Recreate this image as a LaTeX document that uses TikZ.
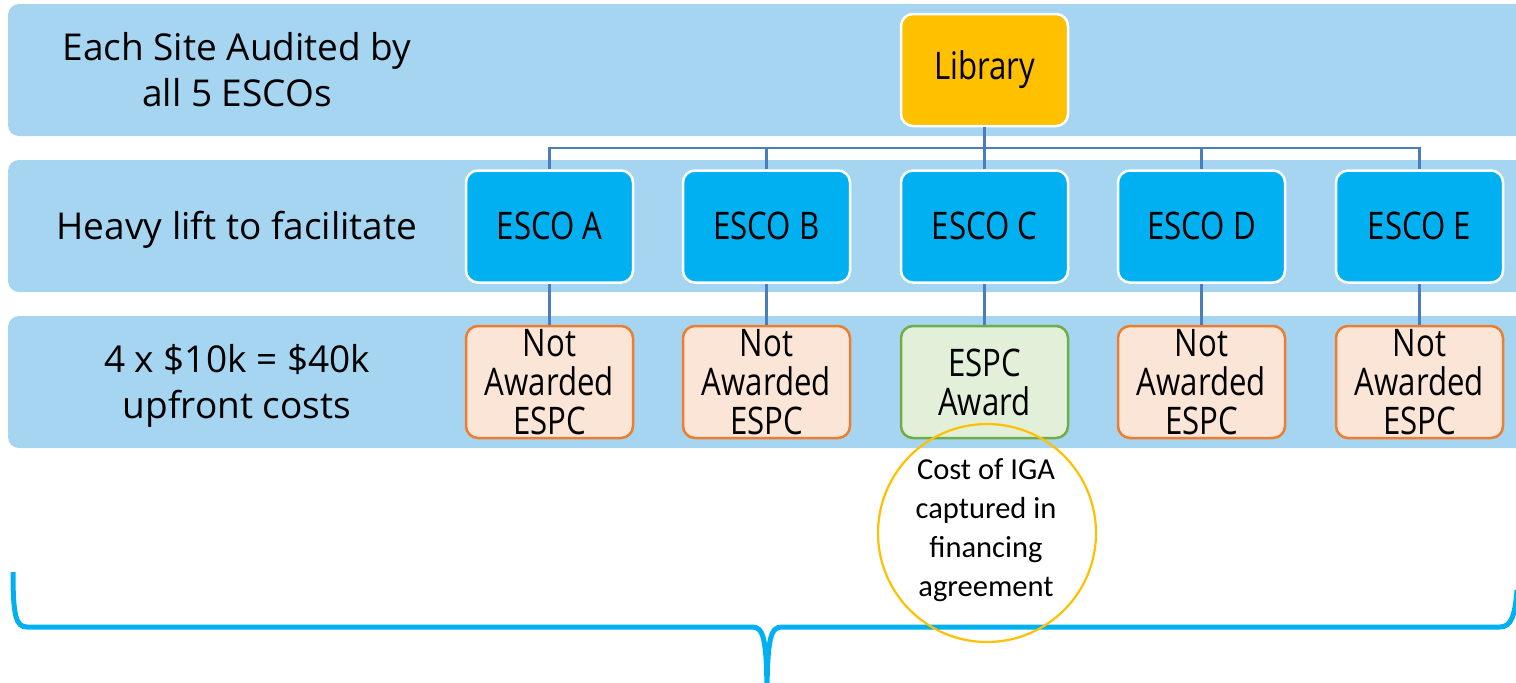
\documentclass[tikz,border=0pt]{standalone}
\usepackage{fontspec}
\setmainfont{Open Sans}
\newfontfamily\condfont[FakeStretch=0.82]{Open Sans}
\newfontfamily\calfont{Carlito}
\definecolor{bandcol}{HTML}{A6D5F2}
\definecolor{libcol}{HTML}{FFC000}
\definecolor{escocol}{HTML}{00B0F0}
\definecolor{conncol}{HTML}{4A7EBB}
\definecolor{nofill}{HTML}{FBE5D6}
\definecolor{nodraw}{HTML}{ED7D31}
\definecolor{yesfill}{HTML}{E2F0D9}
\definecolor{yesdraw}{HTML}{70AD47}
\tikzset{
  band/.style={fill=bandcol, rounded corners=11pt},
  bandtext/.style={align=center, font=\fontsize{37}{46}\selectfont, inner sep=0pt},
  box/.style={rounded corners=12pt, minimum width=167pt, minimum height=112pt, inner sep=0pt, align=center, font=\condfont\fontsize{38}{39}\selectfont},
  libbox/.style={box, fill=libcol, draw=white, line width=2.5pt},
  escobox/.style={box, fill=escocol, draw=white, line width=2.5pt},
  nobox/.style={box, fill=nofill, draw=nodraw, line width=2.5pt},
  yesbox/.style={box, fill=yesfill, draw=yesdraw, line width=2.5pt},
  conn/.style={draw=conncol, line width=2.2pt},
  bracestyle/.style={draw=escocol, line width=5pt},
  costcircle/.style={circle, draw=libcol, line width=2.2pt, minimum size=218pt, inner sep=0pt},
  costtext/.style={align=center, inner sep=0pt, font=\calfont\fontsize{30.5}{39}\selectfont}
}
\begin{document}
\begin{tikzpicture}[x=1pt,y=-1pt]
\useasboundingbox (0,0) rectangle (1516,683);
\clip (0,0) rectangle (1516,683);
% bands
\fill[band] (8,4) rectangle (1545,136);
\fill[band] (8,160) rectangle (1545,292);
\fill[band] (8,316) rectangle (1545,448);
% band labels
\node[bandtext] (t1) at (237,70) {Each Site Audited by\\all 5 ESCOs};
\node[bandtext] (t2) at (237,230) {Heavy lift to facilitate};
\node[bandtext] (t3) at (237,386) {4 x \$10k = \$40k\\upfront costs};
% coordinates
\coordinate (bus) at (984.5,148);
% boxes
\node[libbox] (lib) at (984.5,70) {\raisebox{-4pt}{Library}};
\node[escobox] (ea) at (549.5,226.5) {\raisebox{1pt}{ESCO A}};
\node[escobox] (eb) at (766.5,226.5) {\raisebox{1pt}{ESCO B}};
\node[escobox] (ec) at (984.5,226.5) {\raisebox{1pt}{ESCO C}};
\node[escobox] (ed) at (1201.5,226.5) {\raisebox{1pt}{ESCO D}};
\node[escobox] (ee) at (1419.5,226.5) {\raisebox{1pt}{ESCO E}};
\node[nobox] (na) at (549.5,382) {Not\\Awarded\\ESPC};
\node[nobox] (nb) at (766.5,382) {Not\\Awarded\\ESPC};
\node[yesbox] (nc) at (984.5,382) {ESPC\\Award};
\node[nobox] (nd) at (1201.5,382) {Not\\Awarded\\ESPC};
\node[nobox] (ne) at (1419.5,382) {Not\\Awarded\\ESPC};
% connectors
\draw[conn] (lib.south) -- (bus);
\draw[conn] (ea.north) |- (bus);
\draw[conn] (eb.north) |- (bus);
\draw[conn] (ec.north) -- (bus);
\draw[conn] (ed.north) |- (bus);
\draw[conn] (ee.north) |- (bus);
\draw[conn] (ea.south) -- (na.north);
\draw[conn] (eb.south) -- (nb.north);
\draw[conn] (ec.south) -- (nc.north);
\draw[conn] (ed.south) -- (nd.north);
\draw[conn] (ee.south) -- (ne.north);
% brace
\draw[bracestyle] (13,572) .. controls (13,616) and (16,627) .. (27,627) -- (752,627)
  .. controls (763,627) and (767,636) .. (767,700)
  .. controls (767,636) and (771,627) .. (782,627) -- (1500,627)
  .. controls (1511,627) and (1515,616) .. (1517,590);
% circle
\node[costcircle] (cost) at (987,533) {};
\node[costtext] (costt) at (986,530) {Cost of IGA\\captured in\\financing\\agreement};
\end{tikzpicture}
\end{document}
